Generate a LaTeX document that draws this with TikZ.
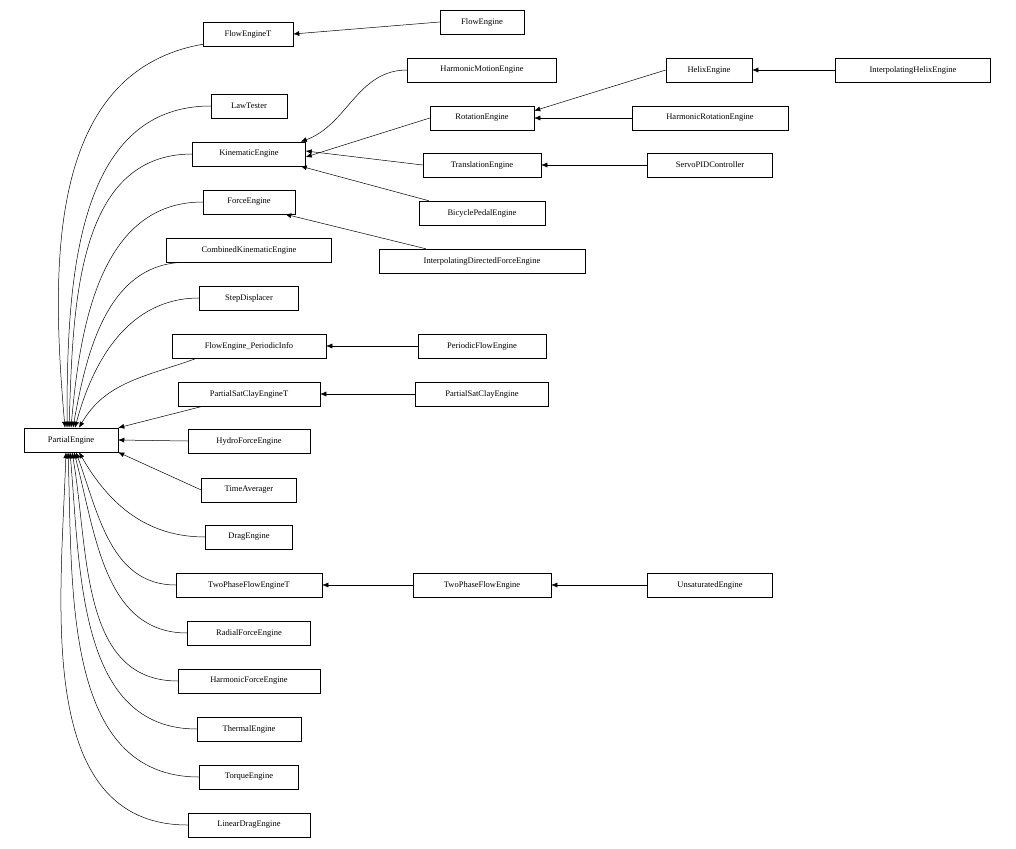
\documentclass[tikz,border=0pt]{standalone}
\usepackage{fontspec}
\setmainfont{Liberation Serif}
\usetikzlibrary{arrows.meta}
\begin{document}
\begin{tikzpicture}[x=1pt,y=-1pt,
  n/.style={draw,line width=0.5pt,minimum height=24pt,inner xsep=2pt,font=\fontsize{8.5}{10}\selectfont},
  e/.style={-{Latex[length=6pt,width=5pt]},line width=0.5pt}]
\useasboundingbox (0,0) rectangle (1016,848);
\newcommand\nd[5]{\node[n,minimum width=#4pt] (#1) at (#2,#3) {#5};}
\nd{PE}{71}{440}{94}{PartialEngine}
\nd{FET}{248}{34}{90}{FlowEngineT}
\nd{FE}{482}{22}{84}{FlowEngine}
\nd{LT}{249}{106}{76}{LawTester}
\nd{KE}{249}{154}{113}{KinematicEngine}
\nd{FoE}{249}{202}{92}{ForceEngine}
\nd{CKE}{249}{250}{165}{CombinedKinematicEngine}
\nd{SD}{249}{298}{99}{StepDisplacer}
\nd{FEPI}{249}{346}{154}{FlowEngine\_PeriodicInfo}
\nd{PSCT}{249}{394}{142}{PartialSatClayEngineT}
\nd{HFE}{249}{441}{122}{HydroForceEngine}
\nd{TA}{249}{490}{95}{TimeAverager}
\nd{DE}{249}{537}{87}{DragEngine}
\nd{TPT}{249}{585}{146}{TwoPhaseFlowEngineT}
\nd{RFE}{249}{633}{123}{RadialForceEngine}
\nd{HaFE}{249}{681}{142}{HarmonicForceEngine}
\nd{TE}{249}{729}{104}{ThermalEngine}
\nd{ToE}{249}{777}{99}{TorqueEngine}
\nd{LDE}{249}{825}{122}{LinearDragEngine}
\nd{HME}{482}{70}{149}{HarmonicMotionEngine}
\nd{RE}{482}{118}{104}{RotationEngine}
\nd{TrE}{482}{165}{118}{TranslationEngine}
\nd{BPE}{482}{213}{126}{BicyclePedalEngine}
\nd{IDFE}{482}{261}{206}{InterpolatingDirectedForceEngine}
\nd{PFE}{482}{346}{128}{PeriodicFlowEngine}
\nd{PSC}{482}{394}{133}{PartialSatClayEngine}
\nd{TPF}{482}{585}{138}{TwoPhaseFlowEngine}
\nd{HE}{709}{70}{86}{HelixEngine}
\nd{HRE}{710}{118}{156}{HarmonicRotationEngine}
\nd{SPC}{710}{165}{125}{ServoPIDController}
\nd{UE}{710}{585}{125}{UnsaturatedEngine}
\nd{IHE}{913}{70}{155}{InterpolatingHelixEngine}
% upper children
\draw[e] (FET.south west)++(0,-2) to[out=190,in=95] ([xshift=-6pt]PE.north);
\draw[e] (LT.west) to[out=180,in=90] ([xshift=-4pt]PE.north);
\draw[e] (KE.west) to[out=180,in=88] ([xshift=-2pt]PE.north);
\draw[e] (FoE.west) to[out=180,in=85] (PE.north);
\draw[e] (CKE.south west)++(20,0) to[out=180,in=80] ([xshift=2pt]PE.north);
\draw[e] (SD.west) to[out=180,in=75] ([xshift=4pt]PE.north);
\draw[e] (FEPI.south west)++(25,0) to[out=200,in=60] ([xshift=8pt]PE.north);
\draw[e] (PSCT.south west)++(25,0) -- (PE.north east);
\draw[e] (HFE.west) -- (PE.east);
\draw[e] (TA.west) -- (PE.south east);
\draw[e] (DE.west) to[out=180,in=-60] ([xshift=8pt]PE.south);
\draw[e] (TPT.west) to[out=180,in=-70] ([xshift=5pt]PE.south);
\draw[e] (RFE.west) to[out=180,in=-75] ([xshift=3pt]PE.south);
\draw[e] (HaFE.west) to[out=180,in=-80] ([xshift=1pt]PE.south);
\draw[e] (TE.west) to[out=180,in=-85] ([xshift=-1pt]PE.south);
\draw[e] (ToE.west) to[out=180,in=-88] ([xshift=-3pt]PE.south);
\draw[e] (LDE.west) to[out=180,in=-92] ([xshift=-5pt]PE.south);
% others
\draw[e] (FE.west) -- (FET.east);
\draw[e] (HME.west) to[out=180,in=20] ([xshift=-5pt]KE.north east);
\draw[e] (RE.west) -- ([yshift=-3pt]KE.east);
\draw[e] (TrE.west) -- ([yshift=3pt]KE.east);
\draw[e] (BPE.north west)++(10,0) -- ([xshift=-5pt]KE.south east);
\draw[e] (IDFE.north west)++(47,0) -- ([xshift=-10pt]FoE.south east);
\draw[e] (PFE.west) -- (FEPI.east);
\draw[e] (PSC.west) -- (PSCT.east);
\draw[e] (TPF.west) -- (TPT.east);
\draw[e] (UE.west) -- (TPF.east);
\draw[e] (HE.west) -- ([yshift=-5pt]RE.north east);
\draw[e] (HRE.west) -- (RE.east);
\draw[e] (SPC.west) -- (TrE.east);
\draw[e] (IHE.west) -- (HE.east);
\end{tikzpicture}
\end{document}
